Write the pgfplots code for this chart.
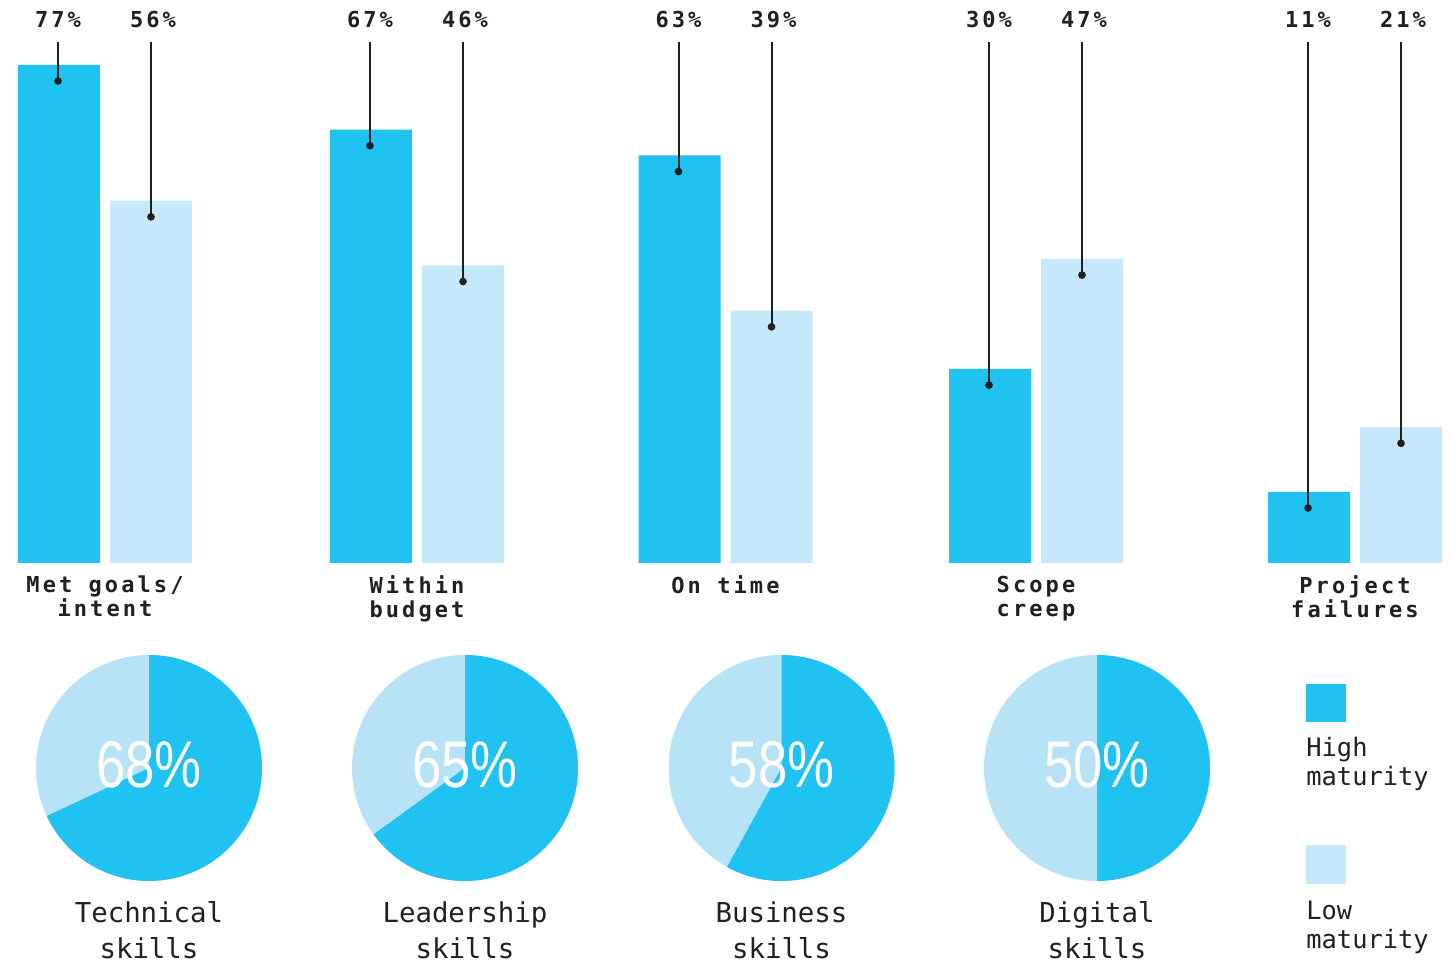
\documentclass[border=0pt]{standalone}
\usepackage{pgfplots}
\pgfplotsset{compat=1.18}
\usepackage{pgfplotstable}
\usepackage{fontspec}
\setmainfont{Liberation Sans}
\newfontfamily\barfont{DejaVu Sans Mono}[LetterSpace=14]
\newfontfamily\labfont{DejaVu Sans Mono}

\definecolor{hi}{RGB}{31,194,240}
\definecolor{lo}{RGB}{197,233,250}
\definecolor{lopie}{RGB}{184,227,247}
\definecolor{ink}{RGB}{35,31,32}

% group centre (px), high maturity %, low maturity %
\pgfplotstableread{
x      high low
105    77   56
417    67   46
725.5  63   39
1036   30   47
1355   11   21
}\bars

% one pie: centre x, share of high maturity, label
\newcommand\pie[3]{%
  \fill[lopie] (axis cs:#1,195) circle[radius=56.5pt];
  \fill[hi] (axis cs:#1,195) -- ++(90:56.5pt)
    arc[start angle=90, delta angle=-3.6*#2, radius=56.5pt] -- cycle;
  \node[text=white, inner sep=0pt, font=\fontsize{33}{33}\selectfont]
    at (axis cs:#1,198) {\scalebox{0.8}[1]{#2\%}};
  \node[align=center, text=ink, inner sep=0pt,
    font=\labfont\fontsize{13.7}{18}\selectfont] at (axis cs:#1,33) {#3};
}

\begin{document}
\begin{tikzpicture}
\useasboundingbox (0,0) rectangle (726.5pt,481.5pt);

\begin{axis}[
    at={(0,200pt)}, anchor=south west,
    scale only axis, width=726.5pt, height=281.5pt,
    xmin=0, xmax=1453, ymin=0, ymax=87.02,
    axis line style={draw=none}, major tick length=0pt,
    ytick=\empty,
    xtick={105,417,725.5,1036,1355},
    xticklabels={{\strut Met goals/\\intent},{\strut Within\\budget},{\strut On time},{\strut Scope\\creep},{\strut Project\\failures}},
    xticklabel style={align=center, text=ink, inner sep=0pt, anchor=north, yshift=-6pt,
      font=\barfont\bfseries\fontsize{11}{12}\selectfont\setlength{\lineskiplimit}{-6pt}},
    /pgf/number format/assume math mode=true,
    clip=false,
  ]
  \addplot[ybar, bar width=82, bar shift=-46, fill=hi, draw=none] table[x=x, y=high] {\bars};
  \addplot[ybar, bar width=82, bar shift=46, fill=lo, draw=none] table[x=x, y=low] {\bars};

  % leader lines from the labels down to a dot inside each bar
  \addplot[only marks, mark=*, mark size=1.7pt, ink,
    error bars/.cd, y dir=plus, y explicit, error mark=none,
    error bar style={ink, line width=1pt}]
    table[x expr=\thisrow{x}-47, y expr=\thisrow{high}-2.5, y error expr=83-\thisrow{high}] {\bars};
  \addplot[only marks, mark=*, mark size=1.7pt, ink,
    error bars/.cd, y dir=plus, y explicit, error mark=none,
    error bar style={ink, line width=1pt}]
    table[x expr=\thisrow{x}+46, y expr=\thisrow{low}-2.5, y error expr=83-\thisrow{low}] {\bars};

  \addplot[draw=none, mark=none, point meta=explicit,
    nodes near coords={\pgfmathprintnumber{\pgfplotspointmeta}\%},
    nodes near coords align=center,
    every node near coord/.append style={text=ink, font=\barfont\bfseries\fontsize{11}{12}\selectfont}]
    table[x expr=\thisrow{x}-47, y expr=84, meta=high] {\bars};
  \addplot[draw=none, mark=none, point meta=explicit,
    nodes near coords={\pgfmathprintnumber{\pgfplotspointmeta}\%},
    nodes near coords align=center,
    every node near coord/.append style={text=ink, font=\barfont\bfseries\fontsize{11}{12}\selectfont}]
    table[x expr=\thisrow{x}+48, y expr=84, meta=low] {\bars};
\end{axis}

\begin{axis}[
    at={(0,0)}, anchor=south west,
    scale only axis, width=726.5pt, height=200pt,
    xmin=0, xmax=1453, ymin=0, ymax=400,
    hide axis, clip=false,
  ]
  \pie{149}{68}{Technical\\skills}
  \pie{465}{65}{Leadership\\skills}
  \pie{781.5}{58}{Business\\skills}
  \pie{1097}{50}{Digital\\skills}

  \fill[hi] (axis cs:1306,241) rectangle (axis cs:1346,279);
  \fill[lo] (axis cs:1306,79) rectangle (axis cs:1346,118);
  \node[anchor=west, align=left, text=ink, inner sep=0pt,
    font=\labfont\fontsize{12.7}{14.5}\selectfont] at (axis cs:1306,198.5) {High\\maturity};
  \node[anchor=west, align=left, text=ink, inner sep=0pt,
    font=\labfont\fontsize{12.7}{14.5}\selectfont] at (axis cs:1306,36) {Low\\maturity};
\end{axis}
\end{tikzpicture}
\end{document}
